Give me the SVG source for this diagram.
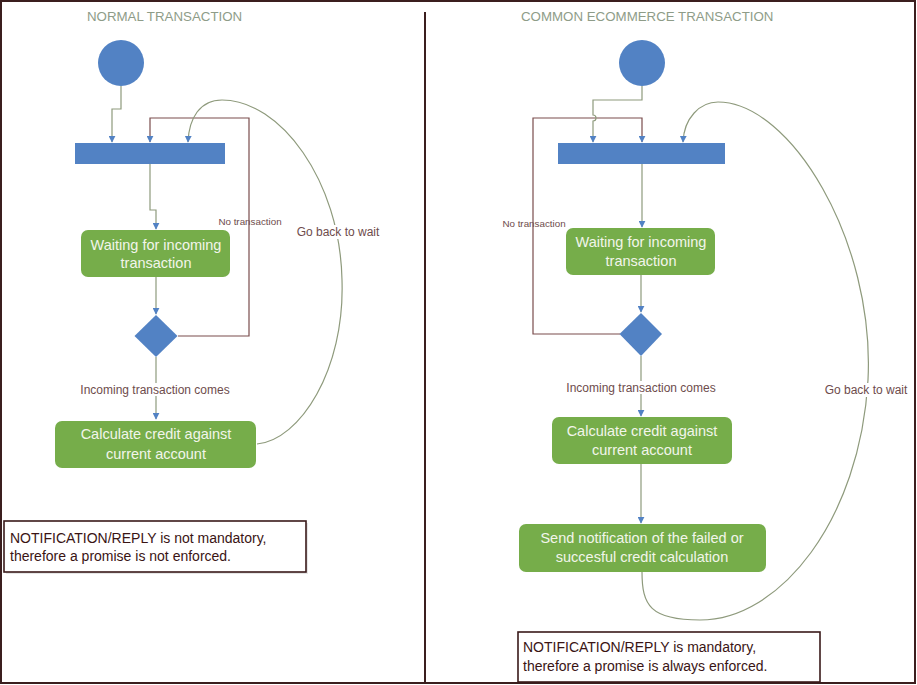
<svg xmlns="http://www.w3.org/2000/svg" width="917" height="685" viewBox="0 0 917 685">
<style>
.title{font-family:"Liberation Sans",Arial,sans-serif;font-size:13.3px;fill:#8e9c88}
.lbl{font-family:"Liberation Sans",Arial,sans-serif;fill:#6e4c4c}
.btxt{font-family:"Liberation Sans",Arial,sans-serif;font-size:14.5px;fill:#f2f5ea;text-anchor:middle}
.note{font-family:"Liberation Sans",Arial,sans-serif;font-size:14px;fill:#3a1414}
.blue{fill:#5282c4}
.act{fill:#76ad4a}
.ln{fill:none;stroke:#8e9a7c;stroke-width:1.2}
.br{fill:none;stroke:#7a4c4c;stroke-width:1.2}
.nb{fill:#fff;stroke:#3a1a1a;stroke-width:1.6}
</style>
<defs>
<marker id="ar" viewBox="0 0 10 10" refX="9" refY="5" markerWidth="7" markerHeight="7" orient="auto" markerUnits="userSpaceOnUse">
<path d="M0,0 L10,5 L0,10 z" fill="#5282c4"/>
</marker>
</defs>
<rect x="0" y="0" width="917" height="685" fill="#fff"/>
<rect x="1" y="1" width="914" height="682" fill="none" stroke="#3b1e1e" stroke-width="2"/>
<line x1="425" y1="12" x2="425" y2="683" stroke="#3b1e1e" stroke-width="2"/>

<text class="title" x="87" y="21">NORMAL TRANSACTION</text>
<text class="title" x="521" y="21">COMMON ECOMMERCE TRANSACTION</text>

<g id="connectors">
<!-- left -->
<path class="ln" d="M121,86 V109 H112 V142" marker-end="url(#ar)"/>
<path class="br" d="M178,336 H249 V118 H150 V142" marker-end="url(#ar)"/>
<path class="ln" d="M257,444 C300,440 345,370 342,280 C340,180 280,100 222,100 C200,100 189,118 188,142" marker-end="url(#ar)"/>
<path class="ln" d="M150,164 V210 H156 V229" marker-end="url(#ar)"/>
<path class="ln" d="M156,277 V314" marker-end="url(#ar)"/>
<path class="ln" d="M156,357 V419" marker-end="url(#ar)"/>
<!-- right -->
<path class="br" d="M620,334 H533 V118 H642 V142" marker-end="url(#ar)"/>
<path class="ln" d="M642,86 V100 H593 V115 A3,3 0 0 1 593,121 V142" marker-end="url(#ar)"/>
<path class="ln" d="M642,572 C642,605 650,620 700,620 C780,620 860,520 868,380 C875,240 790,102 718,102 C700,102 684,118 683,142" marker-end="url(#ar)"/>
<path class="ln" d="M642,164 V227" marker-end="url(#ar)"/>
<path class="ln" d="M641,275 V312" marker-end="url(#ar)"/>
<path class="ln" d="M641,356 V416" marker-end="url(#ar)"/>
<path class="ln" d="M641,464 V523" marker-end="url(#ar)"/>
<!-- labels -->
<text class="lbl" x="250" y="225" font-size="9.8" text-anchor="middle">No transaction</text>
<rect x="295" y="225" width="86" height="14" fill="#fff"/>
<text class="lbl" x="338" y="236" font-size="12" text-anchor="middle">Go back to wait</text>
<rect x="79" y="383" width="153" height="13" fill="#fff"/>
<text class="lbl" x="155" y="394" font-size="12" text-anchor="middle">Incoming transaction comes</text>
<text class="lbl" x="534" y="227" font-size="9.8" text-anchor="middle">No transaction</text>
<rect x="565" y="381" width="153" height="13" fill="#fff"/>
<text class="lbl" x="641" y="392" font-size="12" text-anchor="middle">Incoming transaction comes</text>
<rect x="823" y="383" width="86" height="14" fill="#fff"/>
<text class="lbl" x="866" y="394" font-size="12" text-anchor="middle">Go back to wait</text>
</g>

<g id="start-left"><circle class="blue" cx="121" cy="63" r="23"/></g>
<g id="fork-left"><rect class="blue" x="75" y="143" width="150" height="21"/></g>
<g id="wait-left"><rect class="act" x="81" y="230" width="149" height="47" rx="7"/>
<text class="btxt" x="156" y="250">Waiting for incoming</text>
<text class="btxt" x="156" y="268">transaction</text></g>
<g id="decision-left"><path class="blue" d="M156,315 L177.5,336 L156,357 L134.5,336 z"/></g>
<g id="calc-left"><rect class="act" x="55" y="421" width="201" height="47" rx="7"/>
<text class="btxt" x="156" y="439">Calculate credit against</text>
<text class="btxt" x="156" y="459">current account</text></g>
<g id="note-left"><rect x="6" y="523" width="302" height="51" fill="#e6e6e6"/>
<rect class="nb" x="4" y="521" width="302" height="51"/>
<text class="note" x="10" y="543">NOTIFICATION/REPLY is not mandatory,</text>
<text class="note" x="10" y="561">therefore a promise is not enforced.</text></g>

<g id="start-right"><circle class="blue" cx="642" cy="63" r="23"/></g>
<g id="fork-right"><rect class="blue" x="558" y="143" width="167" height="21"/></g>
<g id="wait-right"><rect class="act" x="566" y="228" width="149" height="47" rx="7"/>
<text class="btxt" x="641" y="247">Waiting for incoming</text>
<text class="btxt" x="641" y="266">transaction</text></g>
<g id="decision-right"><path class="blue" d="M641,313 L662,334 L641,356 L619.5,334 z"/></g>
<g id="calc-right"><rect class="act" x="552" y="417" width="180" height="47" rx="7"/>
<text class="btxt" x="642" y="436">Calculate credit against</text>
<text class="btxt" x="642" y="455">current account</text></g>
<g id="notify-right"><rect class="act" x="519" y="524" width="247" height="48" rx="7"/>
<text class="btxt" x="642" y="543" font-size="14.2">Send notification of the failed or</text>
<text class="btxt" x="642" y="562" font-size="14.2">succesful credit calculation</text></g>
<g id="note-right"><rect class="nb" x="518" y="632" width="302" height="50"/>
<text class="note" x="523" y="652">NOTIFICATION/REPLY is mandatory,</text>
<text class="note" x="523" y="671">therefore a promise is always enforced.</text></g>
</svg>
